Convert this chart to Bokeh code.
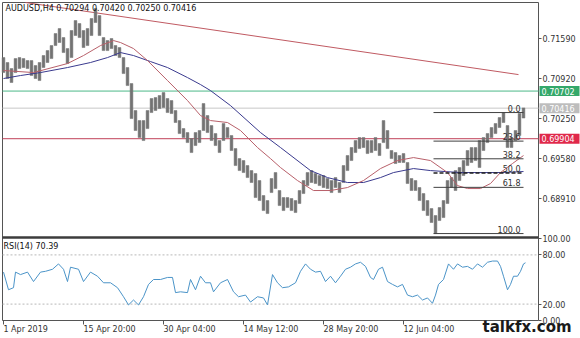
from bokeh.plotting import figure
from bokeh.models import (FixedTicker, Label, Range1d, NumeralTickFormatter, ColumnDataSource,
                          LinearAxis)
from bokeh.core.properties import value
from bokeh.embed import file_html
from bokeh.resources import INLINE

FONT = "DejaVu Sans"

# ---------------- data (prices in points, 1 point = 0.00001) ----------------
bar_high = [71263, 71180, 71079, 71246, 71263, 71246, 71213, 71213, 71129, 71180,
            71297, 71380, 71464, 71665, 71749, 71598, 71414, 71716, 71883, 71833,
            71716, 71749, 71917, 72084, 71967, 71598, 71548, 71582, 71464, 71431,
            71263, 71096, 70828, 70376, 70208, 70208, 70376, 70577, 70593, 70627,
            70677, 70577, 70543, 70376, 70208, 70074, 70007, 69906, 70007, 70041,
            70493, 70292, 70124, 69990, 69873, 70158, 70091, 69957, 69739, 69571,
            69538, 69454, 69370, 69320, 69203, 68952, 68868, 69237, 69337, 69036,
            68918, 68918, 68902, 68868, 69036, 69203, 69337, 69370, 69320, 69287,
            69287, 69237, 69203, 69253, 69170, 69454, 69622, 69756, 69873, 69923,
            69923, 69873, 69873, 69923, 69823, 70208, 70041, 69706, 69672, 69622,
            69655, 69505, 69237, 69203, 69086, 68985, 68868, 68734, 68617, 68751,
            68868, 69203, 69253, 69370, 69421, 69538, 69706, 69756, 69756, 69873,
            69923, 69990, 70091, 70158, 70258, 70342, 70124, 69923, 70041, 70325,
            70420]
bar_low = [71012, 70912, 70845, 71012, 71079, 71096, 71079, 70962, 70912, 70878,
           71096, 71180, 71246, 71464, 71515, 71347, 71163, 71263, 71632, 71598,
           71431, 71464, 71632, 71850, 71632, 71380, 71380, 71414, 71297, 71263,
           70995, 70794, 70242, 70041, 69923, 69873, 70074, 70342, 70376, 70409,
           70426, 70342, 70325, 70175, 69990, 69923, 69839, 69672, 69789, 69839,
           70041, 70007, 69873, 69789, 69672, 69873, 69923, 69706, 69454, 69370,
           69337, 69253, 69170, 68918, 68868, 68700, 68650, 69002, 69069, 68784,
           68700, 68751, 68700, 68667, 68818, 68985, 69119, 69170, 69153, 69119,
           69086, 69069, 69002, 69086, 69002, 69170, 69370, 69538, 69672, 69739,
           69756, 69655, 69672, 69706, 69622, 69839, 69739, 69571, 69488, 69505,
           69505, 69153, 69036, 69036, 68868, 68700, 68617, 68500, 68315, 68533,
           68583, 68818, 69086, 69036, 69203, 69287, 69454, 69505, 69538, 69421,
           69706, 69839, 69923, 69990, 70091, 70175, 69756, 69756, 69873, 69957,
           70250]

ma_fast_bar = [0, 7.5, 16, 20, 24.25, 27.5, 29.25, 32.5, 36, 41, 46, 49.25, 51.75, 56,
               59.25, 63.5, 66.75, 69.25, 73.5, 77.5, 81.75, 86, 90, 94.25, 98.5, 102.5,
               106.75, 111, 113.5, 116, 119.25, 121.75, 124.25, 127.25, 130]
ma_fast_val = [71046, 71012, 71163, 71297, 71464, 71548, 71515, 71414, 71213, 70878,
               70543, 70292, 70208, 70175, 70041, 69756, 69571, 69421, 69203, 69036,
               69036, 69086, 69203, 69404, 69538, 69588, 69538, 69337, 69119, 69069,
               69069, 69153, 69337, 69488, 69622]

ma_slow_bar = [0, 4.25, 9.25, 16, 21.75, 26, 29.25, 32.5, 36.75, 41, 46, 49.25, 51.75,
               56.75, 64.25, 69.25, 76.75, 81, 86, 90, 94.25, 97.5, 102.5, 106.75,
               114.25, 124.25, 130]
ma_slow_val = [70912, 70962, 71012, 71096, 71180, 71263, 71347, 71297, 71196, 71096,
               70928, 70811, 70710, 70459, 70007, 69756, 69370, 69253, 69170, 69170,
               69253, 69337, 69404, 69370, 69337, 69337, 69354]

trend_bar = [5.5, 128.75]
trend_val = [72185, 70978]

level_green = 70702
level_last = 70416
level_red = 69904

fib_high = 70342
fib_low = 68315
fib_start_bar = 107.5
fib_end_bar = 130
fib_levels = [0.0, 23.6, 38.2, 50.0, 61.8, 100.0]
fib_texts = ["0.0", "23.6", "38.2", "50.0", "61.8", "100.0"]

rsi_bar = [0, 1.25, 2.5, 3, 4.25, 6, 7.5, 9.25, 10.5, 12.25, 13.75, 15, 16, 16.75, 18.75,
           20, 21.75, 23.5, 25, 26.75, 28.5, 30, 31.25, 32.5, 33.75, 35, 36.25, 37.5,
           39.25, 41, 42.25, 43, 44.25, 46, 46.75, 48, 49.25, 50.5, 51.75, 52.5, 54.25,
           56, 57.5, 58.75, 60.5, 61.75, 63.5, 65, 66, 67.25, 68.5, 69.75, 71.25, 73,
           74.25, 75.5, 76.75, 78, 79.25, 80.5, 81.75, 83, 84.25, 85.5, 86.75, 88, 89.25,
           90.5, 91.75, 92.5, 93.75, 94.75, 96, 97.25, 98.5, 99.75, 101, 102.25, 103.5,
           104.75, 106, 107.25, 108, 108.75, 110, 111.25, 112.5, 113.5, 114.75, 116,
           117.25, 118.5, 119.75, 121, 122.25, 123.5, 124.25, 125, 126, 126.75, 127.5,
           128.5, 129.25, 130, 130.5]
rsi_val = [59, 37.5, 40, 59, 56, 59, 47.5, 59, 60, 62.5, 69, 62.5, 47.5, 65, 62.5,
           47.5, 59, 54, 46, 46, 40, 29, 19, 25, 19, 29, 44, 50,
           50, 52.5, 52.5, 34, 35, 34, 50, 37.5, 54, 46, 46, 35, 46,
           50, 35, 29, 31, 22.5, 29, 27.5, 19, 56, 46, 40, 41, 46,
           60, 69, 62.5, 59, 60, 47.5, 54, 46, 54, 62.5, 65, 69, 71,
           66, 52.5, 50, 62.5, 65, 47.5, 44, 41, 44, 31, 29, 31,
           25, 27.5, 21, 31, 44, 50, 69, 62.5, 69, 65, 66,
           62.5, 69, 65, 71, 72.5, 72.5, 66, 54, 37.5, 44, 54,
           54, 60, 69, 70.39]
rsi_levels = [80, 20]

price_ticks = [0.71590, 0.70920, 0.70250, 0.69580, 0.68910]
rsi_ticks = [0, 20, 80, 100]
time_label_bar = [0, 20, 40, 60, 80, 100]
time_labels = ["1 Apr 2019", "15 Apr 20:00", "30 Apr 04:00", "14 May 12:00",
               "28 May 20:00", "12 Jun 04:00"]

title_text = "AUDUSD,H4  0.70294 0.70420 0.70250 0.70416"
rsi_title = "RSI(14) 70.39"
brand_text = "talkfx.com"

PT = 1e-5
def px(v):
    return [x * PT for x in v]

# approximate DejaVu Sans advance widths (em) to left-align time labels at their ticks
_W = {" ": 0.318, ":": 0.337, "A": 0.684, "M": 0.863, "J": 0.295, "p": 0.635, "r": 0.411,
      "a": 0.613, "y": 0.592, "u": 0.634, "n": 0.634}
def text_w(s, size):
    return sum(_W.get(c, 0.636) for c in s) * size

# ---------------- layout geometry ----------------
PX_PER_BAR = 4.0
W, H = 580, 338
X_LO = -0.75                      # canvas left edge in bar units
X_HI = X_LO + W / PX_PER_BAR
CHART_L = -0.25                   # left frame line
CHART_R = 133.75                  # right frame line / price scale
P_PER_PX = 0.0001675
P_TOP = 0.72219                   # price at canvas top
P_BOT = P_TOP - H * P_PER_PX
RSI_PX_PER_UNIT = 0.82
RSI_TOP_PX, RSI_BOT_PX = 238, 320
R_HI = 100 + RSI_TOP_PX / RSI_PX_PER_UNIT
R_LO = -(H - RSI_BOT_PX) / RSI_PX_PER_UNIT

def price_at(pxy):
    return P_TOP - pxy * P_PER_PX

p = figure(width=W, height=H, x_range=Range1d(X_LO, X_HI), y_range=Range1d(P_BOT, P_TOP),
           output_backend="svg", toolbar_location=None, x_axis_location=None,
           y_axis_location=None, min_border=0)
p.extra_y_ranges = {"rsi": Range1d(R_LO, R_HI)}
p.outline_line_color = None
p.grid.visible = False
p.background_fill_color = "white"
p.border_fill_color = "white"

# ---- frame lines ----
FRAME = "#555555"
p.line([CHART_L, CHART_R], [price_at(2), price_at(2)], line_color=FRAME, line_width=1)
p.line([CHART_L, CHART_L], [price_at(2), price_at(RSI_BOT_PX)], line_color=FRAME, line_width=1)
p.line([CHART_R, CHART_R], [price_at(2), price_at(RSI_BOT_PX)], line_color=FRAME, line_width=1)
p.line([CHART_L, CHART_R], [price_at(237), price_at(237)], line_color="#3c3c3c", line_width=2.5)
p.line([CHART_L, CHART_R], [0, 0], y_range_name="rsi", line_color=FRAME, line_width=1)

# ---- price axis (fixed at the right frame line) ----
ya = LinearAxis(fixed_location=CHART_R)
ya.ticker = FixedTicker(ticks=price_ticks, minor_ticks=[])
ya.formatter = NumeralTickFormatter(format="0.00000")
ya.axis_line_color = None
ya.major_tick_out = 3
ya.major_tick_in = 0
ya.major_tick_line_color = FRAME
ya.minor_tick_line_color = None
ya.major_label_standoff = 1
ya.major_label_text_font = FONT
ya.major_label_text_font_size = "8px"
ya.major_label_text_color = "#333333"
p.add_layout(ya, "right")

# ---- horizontal levels ----
for lvl, col in [(level_green, "#4db888"), (level_last, "#c8c8c8"), (level_red, "#c04058")]:
    p.line([CHART_L, CHART_R], [lvl * PT, lvl * PT], line_color=col, line_width=1)

# trend line
p.line(trend_bar, px(trend_val), line_color="#c05a62", line_width=1)

# candles (high-low bars)
bars = list(range(len(bar_high)))
p.vbar(x=bars, top=px(bar_high), bottom=px(bar_low), width=0.68,
       fill_color="#737373", line_color="#737373", line_width=0.5)

# moving averages
p.line(ma_slow_bar, px(ma_slow_val), line_color="#3a3a8e", line_width=1)
p.line(ma_fast_bar, px(ma_fast_val), line_color="#b8606a", line_width=1)

# fibonacci
fib_y = [(fib_high - (fib_high - fib_low) * lv / 100.0) * PT for lv in fib_levels]
solid_idx = [i for i, lv in enumerate(fib_levels) if lv != 50.0]
dash_idx = [i for i, lv in enumerate(fib_levels) if lv == 50.0]
p.segment(x0=[fib_start_bar] * len(solid_idx), x1=[fib_end_bar] * len(solid_idx),
          y0=[fib_y[i] for i in solid_idx], y1=[fib_y[i] for i in solid_idx],
          line_color="#404040", line_width=1)
p.segment(x0=[fib_start_bar] * len(dash_idx), x1=[fib_end_bar] * len(dash_idx),
          y0=[fib_y[i] for i in dash_idx], y1=[fib_y[i] for i in dash_idx],
          line_color="#202020", line_width=1.5, line_dash="4 2")
fib_src = ColumnDataSource(dict(x=[fib_end_bar - 0.75] * len(fib_y), y=fib_y, t=fib_texts))
p.text(x="x", y="y", text="t", source=fib_src, text_font=value(FONT), text_font_size="8px",
       text_align="right", text_baseline="bottom", text_color="#303030", y_offset=-1)

# title
p.text(x=[0.5], y=[price_at(8)], text=[title_text], text_font=value(FONT),
       text_font_size="8px", text_baseline="middle", text_color="#111111")

# price tags on the price scale
tag_lv = [level_green, level_last, level_red]
tag_col = ["#34a86a", "#bdbdbd", "#e0284a"]
tag_src = ColumnDataSource(dict(y=[v * PT for v in tag_lv], c=tag_col,
                                t=["%.5f" % (v * PT) for v in tag_lv]))
p.rect(x=CHART_R + 5.25, y="y", width=40, height=10, width_units="screen",
       height_units="screen", fill_color="c", line_color=None, source=tag_src)
p.text(x=CHART_R + 0.75, y="y", text="t", source=tag_src, text_font=value(FONT),
       text_font_size="8px", text_baseline="middle", text_align="left", text_color="white")

# ---------------- RSI panel ----------------
ra = LinearAxis(y_range_name="rsi", fixed_location=CHART_R)
ra.ticker = FixedTicker(ticks=rsi_ticks, minor_ticks=[])
ra.formatter = NumeralTickFormatter(format="0.00")
ra.axis_line_color = None
ra.major_tick_out = 3
ra.major_tick_in = 0
ra.major_tick_line_color = FRAME
ra.minor_tick_line_color = None
ra.major_label_standoff = 1
ra.major_label_text_font = FONT
ra.major_label_text_font_size = "8px"
ra.major_label_text_color = "#333333"
p.add_layout(ra, "right")

# time axis: labels centred so that they start at the (minor) tick marks
centers = [b + text_w(t, 8) / 2.0 / PX_PER_BAR for b, t in zip(time_label_bar, time_labels)]
xa = LinearAxis(y_range_name="rsi", fixed_location=0)
xa.ticker = FixedTicker(ticks=centers, minor_ticks=time_label_bar)
xa.major_label_overrides = {c: t for c, t in zip(centers, time_labels)}
xa.axis_line_color = None
xa.major_tick_out = 4
xa.major_tick_in = 0
xa.major_tick_line_color = None
xa.minor_tick_out = 4
xa.minor_tick_in = 0
xa.minor_tick_line_color = FRAME
xa.major_label_standoff = 0
xa.major_label_text_font = FONT
xa.major_label_text_font_size = "8px"
xa.major_label_text_color = "#333333"
p.add_layout(xa, "below")

p.segment(x0=[CHART_L] * len(rsi_levels), x1=[CHART_R] * len(rsi_levels),
          y0=rsi_levels, y1=rsi_levels, y_range_name="rsi",
          line_color="#b8b8b8", line_width=1, line_dash="2 2")

p.line(rsi_bar, rsi_val, y_range_name="rsi", line_color="#4b94c8", line_width=1)

p.text(x=[0], y=[90.5], text=[rsi_title], y_range_name="rsi", text_font=value(FONT),
       text_font_size="8px", text_baseline="middle", text_color="#111111")

p.text(x=[119.75], y=[-8.5], text=[brand_text], y_range_name="rsi", text_font=value(FONT),
       text_font_size="15px", text_font_style="bold", text_baseline="middle",
       text_align="left", text_color="#1a1a1a")

open("out.html", "w").write(file_html(p, INLINE))
